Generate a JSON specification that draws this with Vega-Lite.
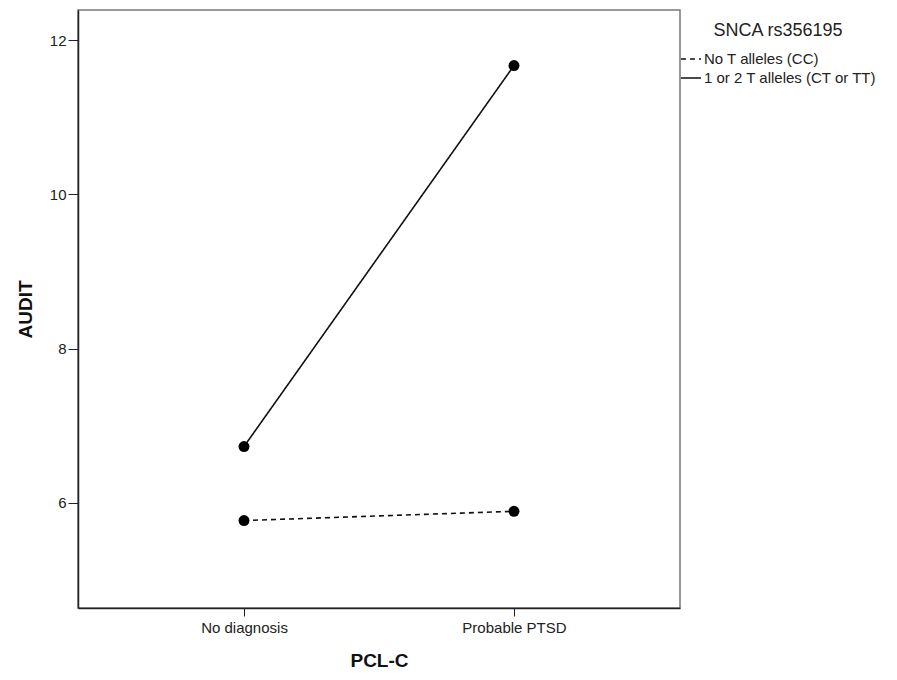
{
  "$schema": "https://vega.github.io/schema/vega-lite/v6.json",
  "width": 602,
  "height": 598,
  "autosize": {"type": "none"},
  "padding": {"left": 78, "top": 10, "right": 217, "bottom": 72},
  "background": "white",
  "config": {
    "font": "Liberation Sans",
    "view": {"stroke": "#777777", "strokeWidth": 1.5}
  },
  "data": {
    "values": [
      {"pcl": "No diagnosis", "group": "No T alleles (CC)", "audit": 5.77},
      {"pcl": "Probable PTSD", "group": "No T alleles (CC)", "audit": 5.89},
      {"pcl": "No diagnosis", "group": "1 or 2 T alleles (CT or TT)", "audit": 6.73},
      {"pcl": "Probable PTSD", "group": "1 or 2 T alleles (CT or TT)", "audit": 11.67}
    ]
  },
  "encoding": {
    "x": {
      "field": "pcl",
      "type": "nominal",
      "scale": {"type": "point", "padding": 0.615},
      "axis": {
        "title": "PCL-C",
        "labelAngle": 0,
        "labelFont": "Liberation Sans",
        "labelFontSize": 15,
        "labelColor": "#222222",
        "labelPadding": 4,
        "tickSize": 8,
        "tickColor": "#222222",
        "domainColor": "#222222",
        "domainWidth": 1.5,
        "titleFontSize": 19,
        "titleFontWeight": "bold",
        "titleColor": "#111111",
        "titlePadding": 16,
        "grid": false
      }
    },
    "y": {
      "field": "audit",
      "type": "quantitative",
      "scale": {"domain": [4.636, 12.39], "nice": false, "zero": false},
      "axis": {
        "title": "AUDIT",
        "values": [6, 8, 10, 12],
        "labelFont": "Liberation Sans",
        "labelFontSize": 15,
        "labelColor": "#222222",
        "labelPadding": 2,
        "tickSize": 10,
        "tickColor": "#222222",
        "domainColor": "#222222",
        "domainWidth": 1.5,
        "titleFontSize": 19,
        "titleFontWeight": "bold",
        "titleColor": "#111111",
        "titlePadding": 14,
        "grid": false
      }
    }
  },
  "layer": [
    {
      "mark": {"type": "line", "color": "#111111", "strokeWidth": 1.6},
      "encoding": {
        "strokeDash": {
          "field": "group",
          "type": "nominal",
          "scale": {
            "domain": ["No T alleles (CC)", "1 or 2 T alleles (CT or TT)"],
            "range": [[5, 4], [1, 0]]
          },
          "legend": {
            "title": "SNCA rs356195",
            "orient": "none",
            "legendX": 602,
            "legendY": 12,
            "titleFont": "Liberation Sans",
            "titleFontSize": 18,
            "titleFontWeight": "normal",
            "titleColor": "#222222",
            "titleAnchor": "middle",
            "titleLimit": 300,
            "titlePadding": 8,
            "labelFont": "Liberation Sans",
            "labelFontSize": 15,
            "labelLimit": 300,
            "labelColor": "#222222",
            "labelOffset": 2,
            "symbolType": "stroke",
            "symbolSize": 400,
            "symbolStrokeColor": "#111111",
            "symbolStrokeWidth": 1.5,
            "rowPadding": 0
          }
        }
      }
    },
    {
      "mark": {"type": "circle", "color": "#000000", "opacity": 1, "size": 120},
      "encoding": {"detail": {"field": "group"}}
    }
  ]
}
